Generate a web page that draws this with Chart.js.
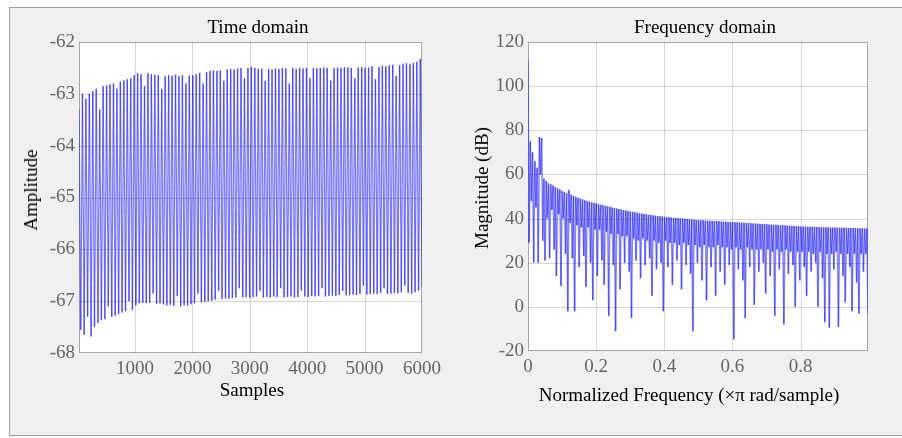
<!DOCTYPE html>
<html lang="en">
<head>
  <meta charset="UTF-8">
  <title>Time domain / Frequency domain</title>
  <script src="https://cdn.jsdelivr.net/npm/chart.js"></script>
  <style>
    html, body { margin: 0; padding: 0; background: #fff; }
    body { width: 902px; height: 438px; position: relative; overflow: hidden; font-family: 'Liberation Serif', 'Times New Roman', serif; }
    #frame { position: absolute; left: 9px; top: 7px; width: 893px; height: 429px; box-sizing: border-box;
             background: #f0f0f0; border-top: 1px solid #a0a0a0; border-left: 1px solid #a0a0a0; border-bottom: 1px solid #a0a0a0; }
    canvas { position: absolute; top: 0; }
    .lbl { position: absolute; font-size: 19px; line-height: 22px; color: #000; white-space: nowrap; transform: translate(-50%, -50%); }
    .lbl.v { transform: translate(-50%, -50%) rotate(-90deg); }
  </style>
</head>
<body>
  <div id="frame"></div>
  <canvas id="timeChart" width="450" height="438" style="left:0"></canvas>
  <canvas id="freqChart" width="452" height="438" style="left:450px"></canvas>
  <!-- titles and axis labels -->
  <div class="lbl" style="left:258px; top:27px">Time domain</div>
  <div class="lbl" style="left:705px; top:27px">Frequency domain</div>
  <div class="lbl v" style="left:31px; top:190px">Amplitude</div>
  <div class="lbl" style="left:252px; top:390px">Samples</div>
  <div class="lbl v" style="left:482px; top:188px">Magnitude (dB)</div>
  <div class="lbl" style="left:689px; top:395px">Normalized Frequency (&times;&pi; rad/sample)</div>

  <script>
    // time domain: upper / lower swing of each oscillation
    const timeTop = [
      -63.3, -63.0, -63.1, -63.0, -62.95, -62.9, -63.3, -62.85, -62.84, -62.82,
      -62.8, -62.9, -62.76, -62.74, -62.72, -62.7, -62.64, -62.6, -62.62, -62.85,
      -62.6, -62.62, -62.63, -62.64, -62.9, -62.66, -62.64, -62.65, -62.63, -62.66,
      -62.64, -62.8, -62.65, -62.64, -62.62, -62.6, -62.8, -62.58, -62.56, -62.55,
      -62.56, -62.55, -62.75, -62.53, -62.52, -62.53, -62.51, -62.5, -62.7, -62.5,
      -62.48, -62.5, -62.52, -62.51, -62.75, -62.52, -62.53, -62.51, -62.52, -62.5,
      -62.51, -62.8, -62.5, -62.52, -62.5, -62.51, -62.5, -62.7, -62.5, -62.51,
      -62.5, -62.49, -62.5, -62.75, -62.5, -62.49, -62.5, -62.48, -62.49, -62.5,
      -62.7, -62.49, -62.48, -62.5, -62.49, -62.47, -62.72, -62.48, -62.46, -62.47,
      -62.45, -62.44, -62.65, -62.45, -62.42, -62.41, -62.43, -62.4, -62.38, -62.33
    ];
    const timeBottom = [
      -67.55, -67.65, -67.3, -67.68, -67.5, -67.42, -67.37, -67.35, -67.1, -67.3,
      -67.28, -67.25, -67.22, -67.19, -67.0, -67.16, -67.08, -67.04, -67.03, -67.04,
      -67.03, -66.85, -67.05, -67.04, -67.06, -67.08, -67.07, -67.09, -66.9, -67.1,
      -67.08, -67.09, -67.06, -67.04, -66.85, -67.02, -67.01, -67.0, -66.99, -66.97,
      -66.8, -66.96, -66.95, -66.95, -66.94, -66.93, -66.75, -66.93, -66.92, -66.94,
      -66.92, -66.91, -66.8, -66.93, -66.92, -66.93, -66.91, -66.92, -66.75, -66.93,
      -66.92, -66.91, -66.93, -66.92, -66.8, -66.91, -66.92, -66.9, -66.91, -66.9,
      -66.75, -66.91, -66.9, -66.89, -66.9, -66.88, -66.8, -66.89, -66.88, -66.87,
      -66.88, -66.86, -66.7, -66.87, -66.86, -66.85, -66.86, -66.84, -66.75, -66.86,
      -66.85, -66.84, -66.85, -66.83, -66.7, -66.84, -66.85, -66.83, -66.8, -66.72
    ];
    const timeXRange = [25, 6000];
    const timeXTicks = [1000, 2000, 3000, 4000, 5000, 6000];
    const timeYTicks = [-68, -67, -66, -65, -64, -63, -62];

    // frequency domain: comb peaks and the notch between each pair (dB)
    const freqPeak = [
      112, 75, 70, 66, 63, 77, 76.5, 58, 57, 56,
      55.5, 55, 54.2, 53.7, 53.2, 52.5, 52, 51.5, 53, 50.8,
      50.3, 49.9, 49.5, 49.1, 48.7, 48.3, 48, 47.7, 47.4, 47.1,
      46.8, 46.55, 46.3, 46.05, 45.8, 45.55, 45.3, 45.05, 44.8, 44.55,
      44.3, 44.05, 43.85, 43.65, 43.45, 43.25, 43.05, 42.85, 42.65, 42.45,
      42.25, 42.05, 41.9, 41.75, 41.6, 41.45, 41.3, 41.15, 41.0, 40.9,
      40.8, 40.7, 40.6, 40.5, 40.4, 40.3, 40.2, 40.1, 40.0, 39.9,
      39.8, 39.7, 39.6, 39.5, 39.4, 39.3, 39.25, 39.2, 39.1, 39.05,
      39.0, 38.95, 38.9, 38.85, 38.8, 38.7, 38.65, 38.6, 38.5, 38.45,
      38.4, 38.35, 38.3, 38.2, 38.15, 38.1, 38.0, 37.95, 37.9, 37.8,
      37.75, 37.7, 37.6, 37.55, 37.5, 37.4, 37.35, 37.3, 37.2, 37.15,
      37.1, 37.0, 36.95, 36.9, 36.8, 36.75, 36.7, 36.6, 36.55, 36.5,
      36.4, 36.4, 36.35, 36.3, 36.3, 36.25, 36.2, 36.2, 36.15, 36.1,
      36.1, 36.05, 36.0, 36.0, 35.95, 35.9, 35.9, 35.85, 35.85, 35.8,
      35.8, 35.75, 35.75, 35.7, 35.7, 35.65, 35.6, 35.6, 35.55, 35.5
    ];
    const freqDip = [
      29, 48, 20, 45, 20, 60, 30, 21, 40, 22,
      44, 26, 14, 42, 9.5, 40, 24, -2, 38, 22,
      -2, 37, 18, 36, 23, 9, 36, 20, 3, 35,
      14, 35, 21, 10, 34, -4, 33, 19, -11, 33,
      8, 32, 20, 32, 16, -5, 31, 21, 30, 13,
      31, 19, 30, 22, 5, 30, 17, 29, 20, -2,
      30, 18, 29, 10, 29, 21, 28, 8, 29, 19,
      28, 15, -11, 28, 20, 27, 12, 28, 3, 27,
      18, 27, 5, 28, 16, 27, 10, 27, 19, 26,
      -14.7, 27, 17, 26, 12, -5, 27, 18, 26, 1,
      26, 16, 26, 20, 6, 26, 14, 25, -4, 26,
      17, 25, -8, 26, 15, 25, 19, 0, 25, 12,
      25, 18, 5, 25, 16, 24, 20, 0, 25, 13,
      -7, 24, -9.5, 24, 17, 25, -9, 24, 14, 2,
      24, 18, -2, 24, 11, -3, 24, 16, 24, -3
    ];
    const freqXRange = [0, 0.998];
    const freqXTicks = [0, 0.2, 0.4, 0.6, 0.8];
    const freqYTicks = [-20, 0, 20, 40, 60, 80, 100, 120];

    const serif = "'Liberation Serif', 'Times New Roman', serif";
    const gridColor = 'rgba(0, 0, 0, 0.16)';
    const boxColor = '#a6a6a6';

    // alternate upper / lower values into one up-down trace
    function zigzag(upper, lower, range) {
      const n = upper.length * 2;
      const step = (range[1] - range[0]) / (n - 1);
      const pts = [];
      for (let i = 0; i < upper.length; i++) {
        pts.push({ x: range[0] + 2 * i * step, y: upper[i] });
        pts.push({ x: range[0] + (2 * i + 1) * step, y: lower[i] });
      }
      return pts;
    }

    // white plot area + box under the trace, grid on top of it
    const axesBox = {
      id: 'axesBox',
      beforeDatasetsDraw(chart) {
        const { ctx, chartArea: a } = chart;
        ctx.save();
        ctx.fillStyle = '#fff';
        ctx.fillRect(a.left, a.top, a.width, a.height);
        ctx.strokeStyle = boxColor;
        ctx.strokeRect(Math.round(a.left) + 0.5, Math.round(a.top) + 0.5, Math.round(a.width) - 1, Math.round(a.height) - 1);
        ctx.restore();
      },
      afterDatasetsDraw(chart) {
        const { ctx, chartArea: a, scales: { x, y } } = chart;
        ctx.save();
        ctx.strokeStyle = gridColor;
        ctx.lineWidth = 1;
        ctx.beginPath();
        x.ticks.forEach(t => {
          if (t.value <= x.min || t.value >= x.max) return;
          const px = Math.round(x.getPixelForValue(t.value)) + 0.5;
          ctx.moveTo(px, a.top); ctx.lineTo(px, a.bottom);
        });
        y.ticks.forEach(t => {
          if (t.value <= y.min || t.value >= y.max) return;
          const py = Math.round(y.getPixelForValue(t.value)) + 0.5;
          ctx.moveTo(a.left, py); ctx.lineTo(a.right, py);
        });
        ctx.stroke();
        ctx.restore();
      }
    };

    function makeChart(id, data, opt) {
      return new Chart(document.getElementById(id), {
        type: 'line',
        data: {
          datasets: [{
            data: data,
            borderColor: opt.color,
            borderWidth: opt.lineWidth,
            pointRadius: 0,
            tension: 0,
            // each segment stroked on its own so overlapping strokes darken
            segment: { borderColor: c => c.p0DataIndex % 2 ? opt.color : opt.color2 }
          }]
        },
        options: {
          responsive: false,
          animation: false,
          events: [],
          layout: { padding: opt.padding },
          plugins: { legend: { display: false }, tooltip: { enabled: false } },
          scales: {
            x: {
              type: 'linear',
              min: opt.xRange[0],
              max: opt.xRange[1],
              afterBuildTicks: s => { s.ticks = opt.xTicks.map(v => ({ value: v })); },
              afterFit: s => { s.height = opt.xHeight; },
              grid: { display: false, drawTicks: false },
              border: { display: false },
              ticks: {
                color: '#666', font: { family: serif, size: 19 }, padding: 5,
                maxRotation: 0, autoSkip: false, callback: v => String(v)
              }
            },
            y: {
              min: opt.yTicks[0],
              max: opt.yTicks[opt.yTicks.length - 1],
              afterBuildTicks: s => { s.ticks = opt.yTicks.map(v => ({ value: v })); },
              afterFit: s => { s.width = opt.yWidth; },
              grid: { display: false, drawTicks: false },
              border: { display: false },
              ticks: {
                color: '#666', font: { family: serif, size: 19 }, padding: 4,
                callback: v => String(v)
              }
            }
          }
        },
        plugins: [axesBox]
      });
    }

    makeChart('timeChart', zigzag(timeTop, timeBottom, timeXRange), {
      padding: { top: 42, right: 28, bottom: 0, left: 0 },
      xRange: timeXRange, xTicks: timeXTicks, yTicks: timeYTicks,
      xHeight: 85, yWidth: 79,
      color: 'rgba(30, 30, 255, 0.58)', color2: 'rgba(30, 30, 254, 0.58)', lineWidth: 1.3
    });

    makeChart('freqChart', zigzag(freqPeak, freqDip, freqXRange), {
      padding: { top: 42, right: 34, bottom: 0, left: 0 },
      xRange: freqXRange, xTicks: freqXTicks, yTicks: freqYTicks,
      xHeight: 87, yWidth: 78,
      color: 'rgba(30, 30, 255, 0.55)', color2: 'rgba(30, 30, 254, 0.55)', lineWidth: 1.5
    });
  </script>
</body>
</html>
